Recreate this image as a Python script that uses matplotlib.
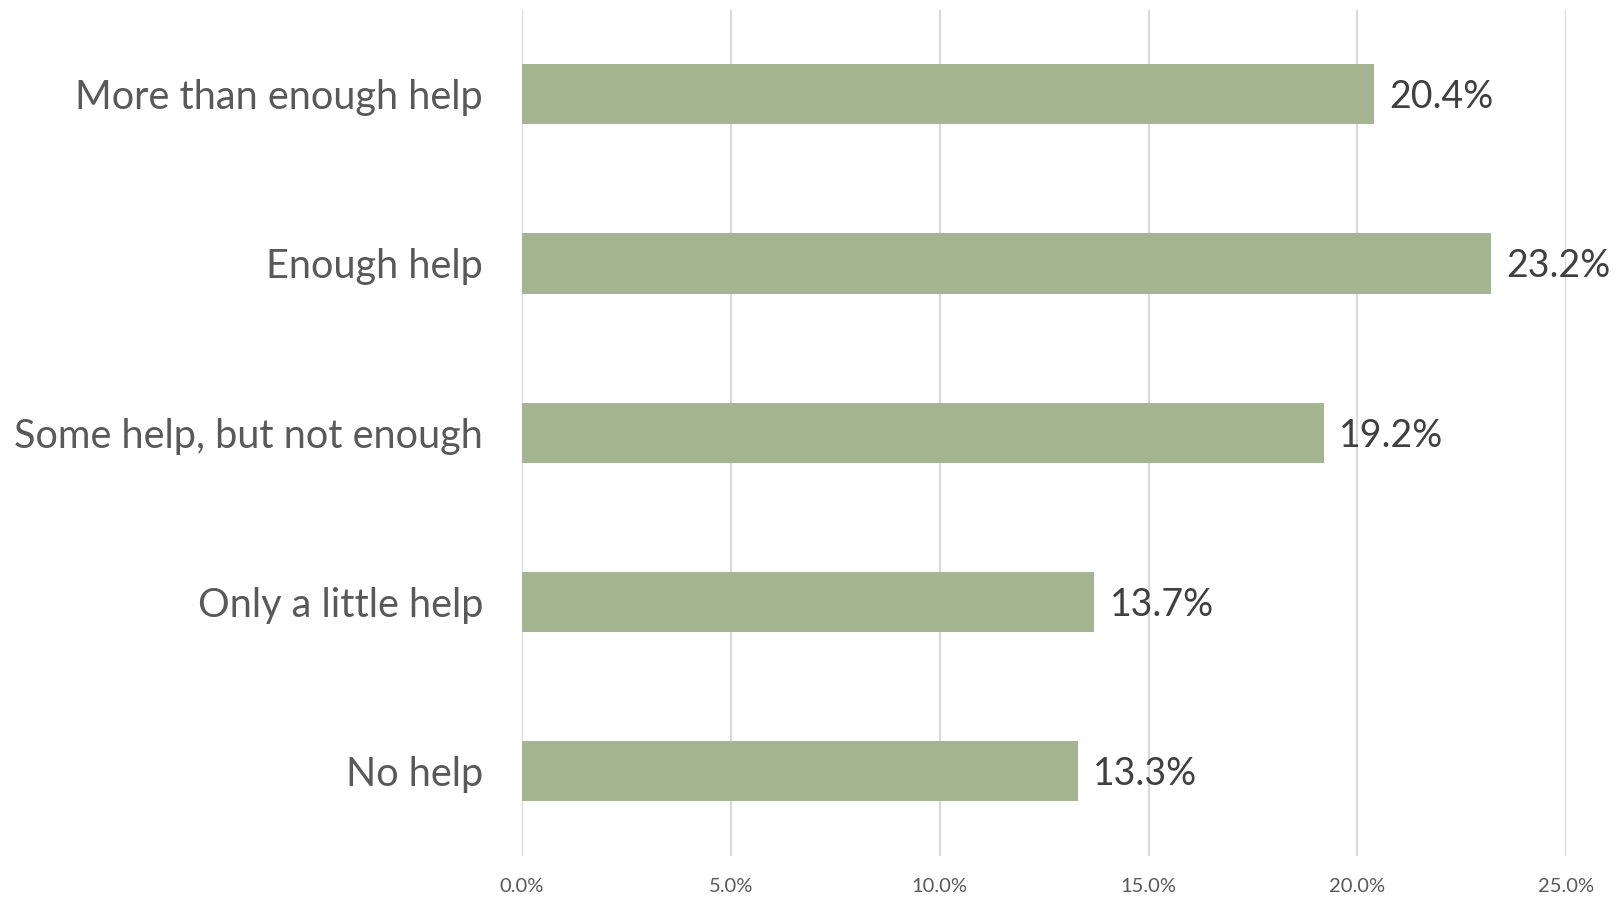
import matplotlib
matplotlib.use("Agg")
import matplotlib.pyplot as plt
from matplotlib.ticker import FuncFormatter

# 各选项占比（%）
categories = ["More than enough help", "Enough help", "Some help, but not enough",
              "Only a little help", "No help"]
shares = [20.4, 23.2, 19.2, 13.7, 13.3]
xticks = [0, 5, 10, 15, 20, 25]

plt.rcParams["font.family"] = ["Lato", "DejaVu Sans"]

fig = plt.figure(figsize=(16.18, 8.98), dpi=100)
ax = fig.add_axes([0.3226, 0.0468, 0.6454, 0.9426])

ypos = list(range(len(categories)))
bars = ax.barh(ypos, shares, height=0.355, color="#A5B592", zorder=3)

# 数值标签
for b, v in zip(bars, shares):
    ax.annotate(f"{v:.1f}%", (b.get_width(), b.get_y() + b.get_height() / 2),
                xytext=(11, -2), textcoords="offset points", ha="left", va="center",
                fontsize=27, color="#404040", clip_on=False)

ax.set_xlim(0, 25)
ax.set_ylim(len(categories) - 0.5, -0.5)
ax.set_xticks(xticks)
ax.xaxis.set_major_formatter(FuncFormatter(lambda x, p: f"{x:.1f}%"))
ax.set_yticks(ypos)
ax.set_yticklabels(categories)

ax.tick_params(axis="x", length=0, pad=16, labelsize=14.5, labelcolor="#595959")
ax.tick_params(axis="y", length=0, pad=28, labelsize=28.5, labelcolor="#595959")

ax.grid(axis="x", color="#D9D9D9", linewidth=1.5, zorder=0)
ax.grid(axis="y", visible=False)
for s in ax.spines.values():
    s.set_visible(False)

fig.savefig("out.png", dpi=100)
